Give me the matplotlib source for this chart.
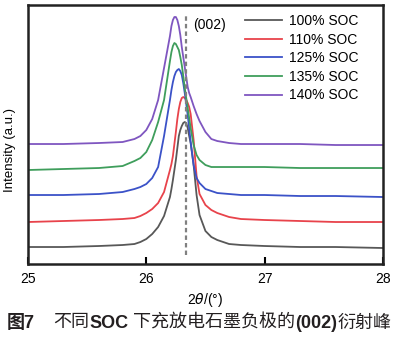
import matplotlib
matplotlib.use("Agg")
import matplotlib.pyplot as plt

plt.rcParams['font.family'] = ['Liberation Sans', 'DejaVu Sans']

# -------- data --------
two_theta = [25.0, 25.3, 25.6, 25.8, 25.9, 25.95, 26.0, 26.05, 26.1, 26.15,
             26.2, 26.2125, 26.225, 26.2375, 26.25, 26.2625, 26.275, 26.2875,
             26.3, 26.3125, 26.325, 26.3375, 26.35, 26.3625, 26.375, 26.4,
             26.425, 26.45, 26.5, 26.55, 26.6, 26.7, 26.8, 27.0, 27.3, 27.6, 28.0]

soc_100 = [17, 17, 18, 19, 20, 22, 25, 30, 37, 48,
           67, 75, 84, 94, 104, 116, 128, 134,
           138, 141, 142, 141, 136, 128, 121, 99,
           69, 49, 33, 27, 24, 20, 19, 18, 17, 17, 16]
soc_110 = [42, 43, 44, 45, 46, 48, 51, 55, 61, 72,
           94, 100, 108, 120, 132, 145, 155, 162,
           166, 167, 166, 164, 161, 157, 150, 124,
           88, 70, 59, 54, 51, 47, 45, 44, 43, 42, 42]
soc_125 = [69, 69, 70, 72, 75, 77, 80, 86, 97, 128,
           164, 174, 182, 188, 192, 194, 195, 193,
           189, 181, 171, 160, 149, 136, 122, 99,
           86, 81, 75, 73, 71, 70, 69, 69, 68, 68, 67]
soc_135 = [94, 95, 96, 98, 103, 106, 112, 124, 142, 164,
           203, 212, 218, 221, 220, 217, 214, 207,
           199, 188, 176, 166, 156, 146, 136, 119,
           109, 104, 99, 97, 97, 97, 97, 97, 96, 96, 96]
soc_140 = [120, 120, 121, 122, 125, 128, 134, 145, 164, 196,
           228, 238, 244, 247, 247, 244, 238, 229,
           217, 207, 197, 187, 177, 171, 167, 158,
           150, 143, 132, 125, 123, 121, 120, 120, 120, 119, 119]

labels = ['100% SOC', '110% SOC', '125% SOC', '135% SOC', '140% SOC']
colors = ['#585858', '#e8434b', '#3b52c8', '#3f9e5c', '#7f56c0']
series = [soc_100, soc_110, soc_125, soc_135, soc_140]

peak_002 = 26.335

# -------- plot --------
fig = plt.figure(figsize=(3.97, 3.37), dpi=100)
ax = fig.add_axes([0.0705, 0.2166, 0.894, 0.7685])

for y, c, lab in zip(series, colors, labels):
    ax.plot(two_theta, y, color=c, lw=1.3, label=lab)

ax.vlines(peak_002, 9, 249, colors='#808080', linestyles=(0, (2, 1.4)), lw=1.6)
ax.text(26.398, 239, '(002)', fontsize=10, va='center', ha='left')

ax.set_xlim(25, 28)
ax.set_ylim(0, 259)
ax.set_xticks([25, 26, 27, 28])
ax.set_yticks([])
ax.tick_params(axis='x', direction='in', length=5, width=1.5, labelsize=10, pad=6)
for s in ax.spines.values():
    s.set_linewidth(1.8)
    s.set_color('#222222')

ax.set_xlabel(r'2$\theta$/(°)', fontsize=10, labelpad=3)
fig.text(10 / 397, 1 - 150 / 337, 'Intensity (a.u.)', rotation=90,
         fontsize=9.5, ha='center', va='center')

ax.legend(loc='upper left', bbox_to_anchor=(0.611, 0.965), frameon=False,
          fontsize=10, handlelength=2.7, handletextpad=0.45,
          labelspacing=0.33, borderpad=0, borderaxespad=0)

# -------- caption with mixed bold pieces --------
pieces = [('图7', 'bold'), ('　', 'normal'), ('不同', 'normal'), ('SOC', 'bold'),
          (' 下充放电石墨负极的', 'normal'), ('(002)', 'bold'), ('衍射峰', 'normal')]
fig.canvas.draw()
renderer = fig.canvas.get_renderer()
x = 7 / 397
for txt, w in pieces:
    t = fig.text(x, 1 - 323 / 337, txt, fontsize=13, fontweight=w,
                 family=['Liberation Sans', 'Noto Sans CJK SC'],
                 color='#231f20', ha='left', va='center')
    bb = t.get_window_extent(renderer)
    x += bb.width / fig.bbox.width

fig.savefig('out.png', dpi=100)
